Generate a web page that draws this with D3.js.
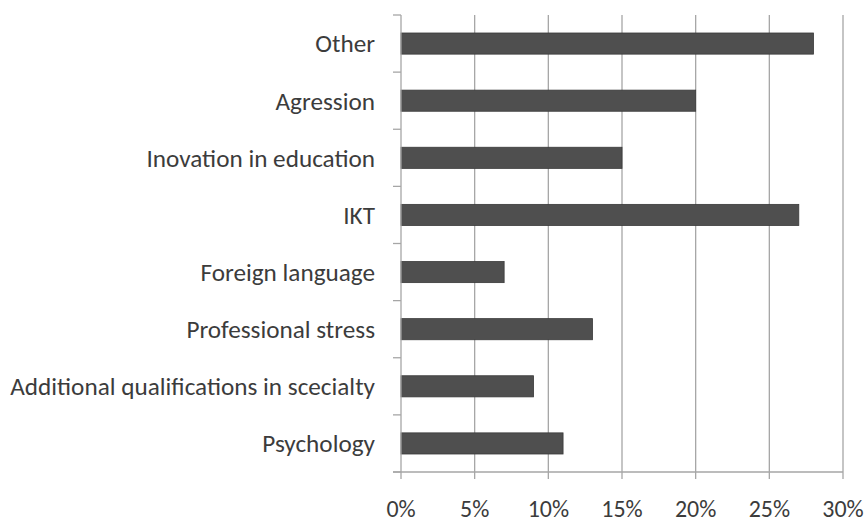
<!DOCTYPE html>
<html>
<head>
<meta charset="UTF-8">
<script src="https://d3js.org/d3.v7.min.js"></script>
<style>
  body { margin: 0; background: #fff; }
  svg { display: block; }
  text { font-family: Carlito, "Liberation Sans Narrow", "Open Sans", sans-serif; fill: #3c3c3c; }
</style>
</head>
<body>
<svg width="867" height="524"></svg>
<script>
const categories = ["Other", "Agression", "Inovation in education", "IKT", "Foreign language",
                    "Professional stress", "Additional qualifications in scecialty", "Psychology"];
const values = [28, 20, 15, 27, 7, 13, 9, 11];
const xTicks = [0, 5, 10, 15, 20, 25, 30];

const svg = d3.select("svg");
const margin = { top: 15, right: 24, bottom: 52, left: 401 };
const width = 867;
const height = 524;

const x = d3.scaleLinear().domain([0, 30]).range([margin.left, width - margin.right]);
const y = d3.scaleBand().domain(categories).range([margin.top, height - margin.bottom]);

// gridlines
svg.selectAll("line.grid")
    .data(xTicks.slice(1))
    .enter()
    .append("line")
    .attr("x1", d => x(d)).attr("x2", d => x(d))
    .attr("y1", margin.top).attr("y2", height - margin.bottom)
    .attr("stroke", "#a6a6a6").attr("stroke-width", 1.3);

// bars
const barH = y.bandwidth() * 0.37;
svg.selectAll("rect")
    .data(values)
    .enter()
    .append("rect")
    .attr("x", x(0))
    .attr("y", (d, i) => y(categories[i]) + (y.bandwidth() - barH) / 2)
    .attr("width", d => x(d) - x(0))
    .attr("height", barH)
    .attr("fill", "#4f4f4f")
    .attr("stroke", "#3a3a3a")
    .attr("stroke-width", 0.8);

// y axis line and ticks
svg.append("line")
    .attr("x1", x(0)).attr("x2", x(0))
    .attr("y1", margin.top).attr("y2", height - margin.bottom)
    .attr("stroke", "#a6a6a6").attr("stroke-width", 1.3);
const bounds = categories.map(c => y(c)).concat([height - margin.bottom]);
svg.selectAll("line.ytick")
    .data(bounds)
    .enter()
    .append("line")
    .attr("x1", x(0) - 8).attr("x2", x(0))
    .attr("y1", d => d).attr("y2", d => d)
    .attr("stroke", "#a6a6a6").attr("stroke-width", 1.3);

// x axis line and ticks
svg.append("line")
    .attr("x1", x(0) - 8).attr("x2", x(30))
    .attr("y1", height - margin.bottom).attr("y2", height - margin.bottom)
    .attr("stroke", "#a6a6a6").attr("stroke-width", 1.3);
svg.selectAll("line.xtick")
    .data(xTicks)
    .enter()
    .append("line")
    .attr("x1", d => x(d)).attr("x2", d => x(d))
    .attr("y1", height - margin.bottom).attr("y2", height - margin.bottom + 7)
    .attr("stroke", "#a6a6a6").attr("stroke-width", 1.3);

// category labels
const labels = svg.selectAll("text.cat")
    .data(categories)
    .enter()
    .append("text")
    .attr("class", "cat")
    .attr("x", 375)
    .attr("y", d => y(d) + y.bandwidth() / 2)
    .attr("dy", "0.35em")
    .attr("text-anchor", "end")
    .style("font-size", "20px")
    .text(d => d);

// fit font so the longest label spans about 365px like the reference
const longest = d3.max(labels.nodes(), n => n.getComputedTextLength());
const fs = 20 * 365 / longest;
labels.style("font-size", fs + "px");

svg.selectAll("text.xt")
    .data(xTicks)
    .enter()
    .append("text")
    .attr("x", d => x(d))
    .attr("y", 517)
    .attr("text-anchor", "middle")
    .style("font-size", (fs * 0.95) + "px")
    .text(d => d + "%");
</script>
</body>
</html>
